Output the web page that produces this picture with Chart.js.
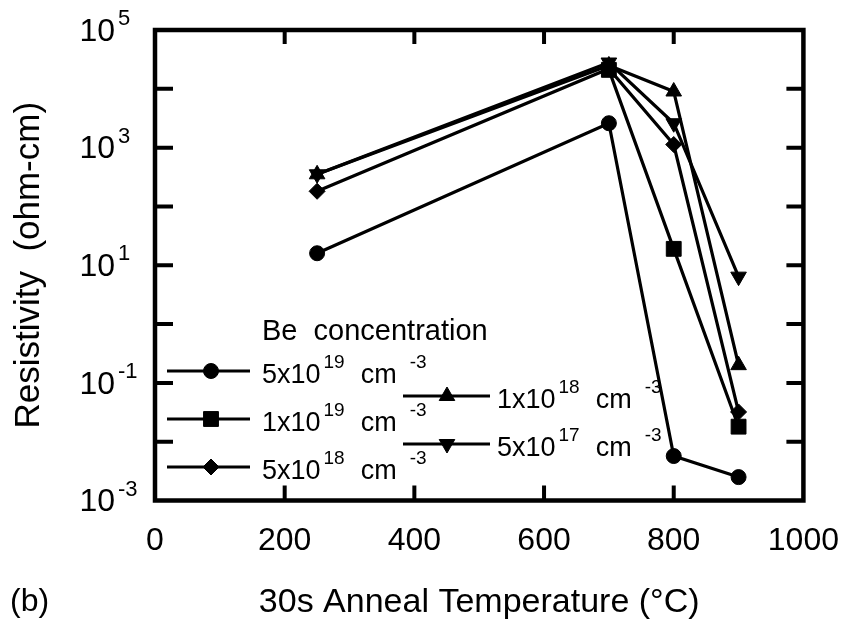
<!DOCTYPE html>
<html><head><meta charset="utf-8">
<script src="https://cdn.jsdelivr.net/npm/chart.js@4/dist/chart.umd.min.js"></script>
<style>html,body{margin:0;padding:0;background:#fff}#wrap{width:860px;height:623px;position:relative}</style>
</head><body><div id="wrap"><canvas id="c"></canvas></div>
<script>
// ---- data ----
const temperatures = [250, 700, 800, 900];
const rho5e19 = [16, 2600, 0.0057, 0.0025];
const rho1e19 = [null, 21000, 19, 0.018];
const rho5e18 = [181, 22000, 1130, 0.032];
const rho1e18 = [352, 25000, 9000, 0.2];
const rho5e17 = [352, 28000, 2600, 6.4];
const seriesMantissa = ['5x10', '1x10', '5x10', '1x10', '5x10'];
const seriesExponent = ['19', '19', '18', '18', '17'];
const xTickStep = 200;
const yLabelExponents = [-3, -1, 1, 3, 5];
const yTickExponents = [-2, -1, 0, 1, 2, 3, 4];
const xInnerTicks = [200, 400, 600, 800];

const FONT = "'Liberation Sans', Arial, Helvetica, sans-serif";
const styles = [
  {pointStyle: 'circle', rotation: 0, radius: 7.5},
  {pointStyle: 'rect', rotation: 0, radius: 10.5},
  {pointStyle: 'rectRot', rotation: 0, radius: 8},
  {pointStyle: 'triangle', rotation: 0, radius: 9},
  {pointStyle: 'triangle', rotation: 180, radius: 9}
];
const seriesValues = [rho5e19, rho1e19, rho5e18, rho1e18, rho5e17];

const datasets = seriesValues.map((vals, i) => ({
  label: seriesMantissa[i] + '^' + seriesExponent[i] + ' cm^-3',
  data: temperatures.map((t, j) => ({x: t, y: vals[j]})).filter(p => p.y !== null),
  borderColor: '#000', backgroundColor: '#000', borderWidth: 3.2,
  pointStyle: styles[i].pointStyle, pointRotation: styles[i].rotation,
  pointRadius: styles[i].radius, pointHoverRadius: styles[i].radius,
  pointBackgroundColor: '#000', pointBorderColor: '#000', pointBorderWidth: 1,
  tension: 0, fill: false
}));

function drawMarker(ctx, st, x, y) {
  ctx.save();
  ctx.fillStyle = '#000'; ctx.strokeStyle = '#000'; ctx.lineWidth = 1;
  if (Chart.helpers && Chart.helpers.drawPoint) {
    Chart.helpers.drawPoint(ctx, {pointStyle: st.pointStyle, rotation: st.rotation, radius: st.radius, borderWidth: 1}, x, y);
  } else {
    ctx.beginPath(); ctx.arc(x, y, st.radius, 0, Math.PI * 2); ctx.fill();
  }
  ctx.restore();
}

function drawSupText(ctx, x, y, pieces, baseSize, supSize, supRise) {
  let cx = x;
  ctx.textAlign = 'left'; ctx.textBaseline = 'middle';
  for (const p of pieces) {
    cx += p.gap || 0;
    ctx.font = (p.sup ? supSize : baseSize) + 'px ' + FONT;
    ctx.fillText(p.t, cx, p.sup ? y - supRise : y);
    cx += ctx.measureText(p.t).width;
  }
}

const decor = {
  id: 'decor',
  afterDraw(chart) {
    const {ctx, chartArea: a, scales: {x, y}} = chart;
    ctx.save();
    ctx.strokeStyle = '#000'; ctx.fillStyle = '#000';
    // frame
    ctx.lineWidth = 4.5;
    ctx.strokeRect(a.left, a.top, a.right - a.left, a.bottom - a.top);
    // inward ticks
    ctx.lineWidth = 4;
    ctx.beginPath();
    for (const e of yTickExponents) {
      const py = y.getPixelForValue(Math.pow(10, e));
      ctx.moveTo(a.left, py); ctx.lineTo(a.left + 18, py);
      ctx.moveTo(a.right, py); ctx.lineTo(a.right - 17, py);
    }
    for (const v of xInnerTicks) {
      const px = x.getPixelForValue(v);
      ctx.moveTo(px, a.bottom); ctx.lineTo(px, a.bottom - 15);
      ctx.moveTo(px, a.top); ctx.lineTo(px, a.top + 14);
    }
    ctx.stroke();
    // y tick labels 10^n
    for (const e of yLabelExponents) {
      const py = y.getPixelForValue(Math.pow(10, e));
      ctx.font = '32px ' + FONT; ctx.textAlign = 'right'; ctx.textBaseline = 'middle';
      ctx.fillText('10', a.left - 40, py + 2);
      ctx.font = '22px ' + FONT; ctx.textAlign = 'left';
      ctx.fillText(String(e), a.left - 37, py - 11);
    }
    // legend
    ctx.font = '29px ' + FONT; ctx.textAlign = 'left'; ctx.textBaseline = 'middle';
    ctx.fillText('Be  concentration', 262, 332);
    const pos = [
      {x1: 167, x2: 250, m: 211, y: 371, tx: 262},
      {x1: 167, x2: 250, m: 211, y: 419, tx: 262},
      {x1: 167, x2: 250, m: 211, y: 467, tx: 262},
      {x1: 403, x2: 490, m: 447, y: 396, tx: 497},
      {x1: 403, x2: 490, m: 447, y: 444, tx: 497}
    ];
    pos.forEach((p, i) => {
      ctx.lineWidth = 3; ctx.beginPath();
      ctx.moveTo(p.x1, p.y); ctx.lineTo(p.x2, p.y); ctx.stroke();
      drawMarker(ctx, styles[i], p.m, p.y);
      ctx.fillStyle = '#000';
      drawSupText(ctx, p.tx, p.y + 5, [
        {t: seriesMantissa[i]}, {t: seriesExponent[i], sup: true, gap: 3},
        {t: 'cm', gap: 16}, {t: '-3', sup: true, gap: 13}
      ], 27, 19, 13);
    });
    // panel label
    ctx.font = '32px ' + FONT; ctx.textAlign = 'left'; ctx.textBaseline = 'middle';
    ctx.fillText('(b)', 10, 602);
    ctx.restore();
  }
};

new Chart(document.getElementById('c'), {
  type: 'line',
  data: {datasets},
  options: {
    responsive: true, maintainAspectRatio: false, animation: false,
    layout: {padding: {left: 0, top: 30, right: 42, bottom: 0}},
    plugins: {legend: {display: false}, tooltip: {enabled: false}},
    scales: {
      x: {
        type: 'linear', min: 0, max: 1000,
        grid: {display: false, drawTicks: false}, border: {display: false},
        ticks: {stepSize: xTickStep, color: '#000', font: {family: FONT, size: 32}, padding: 21,
                maxRotation: 0, callback: v => String(v)},
        title: {display: true, text: '30s Anneal Temperature (°C)', color: '#000',
                font: {family: FONT, size: 34}, padding: {top: 0, bottom: 0}},
        afterFit(s) { s.height = 122.5; }
      },
      y: {
        type: 'logarithmic', min: 1e-3, max: 1e5,
        grid: {display: false, drawTicks: false}, border: {display: false},
        ticks: {display: false},
        title: {display: true, text: 'Resistivity  (ohm-cm)', color: '#000',
                font: {family: FONT, size: 35}, padding: {top: 8, bottom: 0}},
        afterFit(s) { s.width = 155; }
      }
    }
  },
  plugins: [decor]
});
</script></body></html>
